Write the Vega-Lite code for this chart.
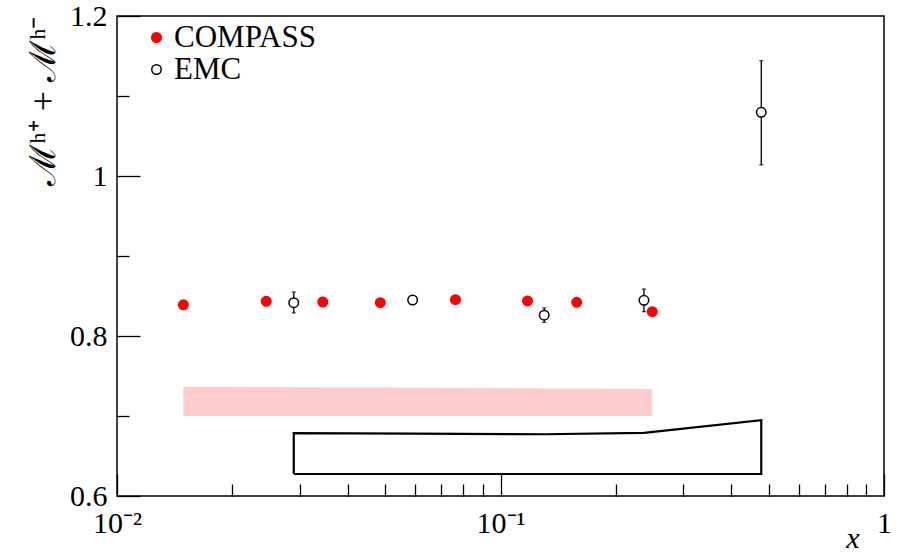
{
  "$schema": "https://vega.github.io/schema/vega-lite/v6.json",
  "width": 767,
  "height": 480,
  "autosize": "none",
  "padding": {"left": 117, "top": 16, "right": 15, "bottom": 59},
  "background": "white",
  "config": {
    "view": {"stroke": "black", "strokeWidth": 1.5},
    "font": "Liberation Serif",
    "axis": {"grid": false, "domain": false, "tickColor": "black", "tickWidth": 1.3, "labelColor": "black", "titleColor": "black", "labelFont": "Liberation Serif", "titleFont": "Liberation Serif", "labelOverlap": false, "labelFlush": false, "labelBound": false},
    "legend": {"labelFont": "Liberation Serif"}
  },
  "datasets": {
    "emc": [
      {"x": 0.0289, "y": 0.8416, "lo": 0.8288, "hi": 0.855, "series": "EMC"},
      {"x": 0.059, "y": 0.845, "lo": 0.84, "hi": 0.85, "series": "EMC"},
      {"x": 0.13, "y": 0.826, "lo": 0.817, "hi": 0.835, "series": "EMC"},
      {"x": 0.2366, "y": 0.8446, "lo": 0.8304, "hi": 0.8588, "series": "EMC"},
      {"x": 0.4786, "y": 1.0796, "lo": 1.0138, "hi": 1.1441, "series": "EMC"}
    ],
    "band": [
      {"x": 0.0149, "lo": 0.7, "hi": 0.7366},
      {"x": 0.0486, "lo": 0.7, "hi": 0.7356},
      {"x": 0.2488, "lo": 0.7, "hi": 0.7338}
    ],
    "poly": [
      {"o": 1, "x": 0.0289, "y": 0.6275},
      {"o": 2, "x": 0.0289, "y": 0.6785},
      {"o": 3, "x": 0.059, "y": 0.678},
      {"o": 4, "x": 0.13, "y": 0.6772},
      {"o": 5, "x": 0.2366, "y": 0.679},
      {"o": 6, "x": 0.4786, "y": 0.6948},
      {"o": 7, "x": 0.4786, "y": 0.6275},
      {"o": 8, "x": 0.0289, "y": 0.6275}
    ],
    "points": [
      {"x": 0.0149, "y": 0.839, "series": "COMPASS"},
      {"x": 0.0245, "y": 0.8434, "series": "COMPASS"},
      {"x": 0.0344, "y": 0.8425, "series": "COMPASS"},
      {"x": 0.0486, "y": 0.8416, "series": "COMPASS"},
      {"x": 0.0763, "y": 0.8454, "series": "COMPASS"},
      {"x": 0.1176, "y": 0.8438, "series": "COMPASS"},
      {"x": 0.158, "y": 0.8421, "series": "COMPASS"},
      {"x": 0.2488, "y": 0.8304, "series": "COMPASS"},
      {"x": 0.0289, "y": 0.8416, "series": "EMC"},
      {"x": 0.059, "y": 0.845, "series": "EMC"},
      {"x": 0.13, "y": 0.826, "series": "EMC"},
      {"x": 0.2366, "y": 0.8446, "series": "EMC"},
      {"x": 0.4786, "y": 1.0796, "series": "EMC"}
    ]
  },
  "layer": [
    {
      "data": {"name": "band"},
      "mark": {"type": "area", "color": "#ffcccc", "opacity": 1},
      "encoding": {
        "x": {"field": "x", "type": "quantitative", "scale": {"type": "log", "domain": [0.01, 1], "nice": false},
          "axis": {
            "values": [0.01,0.02,0.03,0.04,0.05,0.06,0.07,0.08,0.09,0.1,0.2,0.3,0.4,0.5,0.6,0.7,0.8,0.9,1],
            "labelExpr": "datum.value == 0.01 ? '10⁻²' : datum.value == 0.1 ? '10⁻¹' : datum.value == 1 ? '1' : ''",
            "tickSize": {"condition": {"test": "datum.value == 0.01 || datum.value == 0.1 || datum.value == 1", "value": -22}, "value": -12},
            "labelFontSize": 30, "labelPadding": 34, "labelBaseline": "top",
            "title": "x", "titleFontSize": 30, "titleFontStyle": "italic", "titleFontWeight": "normal",
            "titleX": 742, "titleY": 51, "titleAlign": "right", "titleBaseline": "alphabetic"
          }},
        "y": {"field": "lo", "type": "quantitative", "scale": {"domain": [0.6, 1.2], "nice": false, "zero": false},
          "axis": {
            "values": [0.6,0.65,0.7,0.75,0.8,0.85,0.9,0.95,1.0,1.05,1.1,1.15,1.2],
            "labelExpr": "datum.value == 0.6 ? '0.6' : datum.value == 0.8 ? '0.8' : datum.value == 1 ? '1' : datum.value == 1.2 ? '1.2' : ''",
            "tickSize": {"condition": {"test": "datum.value == 0.6 || datum.value == 0.8 || datum.value == 1 || datum.value == 1.2", "value": -23}, "value": -12},
            "labelFontSize": 30, "labelPadding": 33,
            "title": "ℳʰ⁺ + ℳʰ⁻", "titleFontSize": 36, "titleFontWeight": "normal",
            "titleAngle": -90, "titleX": -74, "titleY": 0, "titleAlign": "right", "titleBaseline": "middle"
          }},
        "y2": {"field": "hi"}
      }
    },
    {
      "data": {"name": "poly"},
      "mark": {"type": "line", "color": "black", "strokeWidth": 2.2, "interpolate": "linear"},
      "encoding": {
        "x": {"field": "x", "type": "quantitative"},
        "y": {"field": "y", "type": "quantitative"},
        "order": {"field": "o", "type": "quantitative"}
      }
    },
    {
      "data": {"name": "emc"},
      "mark": {"type": "rule", "color": "black", "strokeWidth": 1.3},
      "encoding": {
        "x": {"field": "x", "type": "quantitative"},
        "y": {"field": "lo", "type": "quantitative"},
        "y2": {"field": "hi"}
      }
    },
    {
      "data": {"name": "emc"},
      "mark": {"type": "tick", "orient": "horizontal", "color": "black", "size": 4, "thickness": 1.3},
      "encoding": {
        "x": {"field": "x", "type": "quantitative"},
        "y": {"field": "lo", "type": "quantitative"}
      }
    },
    {
      "data": {"name": "emc"},
      "mark": {"type": "tick", "orient": "horizontal", "color": "black", "size": 4, "thickness": 1.3},
      "encoding": {
        "x": {"field": "x", "type": "quantitative"},
        "y": {"field": "hi", "type": "quantitative"}
      }
    },
    {
      "data": {"name": "points"},
      "mark": {"type": "point", "shape": "circle", "size": 90, "strokeWidth": 1.5, "opacity": 1},
      "encoding": {
        "x": {"field": "x", "type": "quantitative"},
        "y": {"field": "y", "type": "quantitative"},
        "fill": {"field": "series", "type": "nominal", "scale": {"domain": ["COMPASS", "EMC"], "range": ["#ff0000", "#ffffff"]},
          "legend": {"title": null, "orient": "none", "legendX": 24, "legendY": 6, "padding": 0, "labelFontSize": 31, "labelLimit": 400, "labelColor": "black", "symbolSize": 90, "symbolStrokeWidth": 1.5, "labelOffset": 2, "rowPadding": 0, "symbolOpacity": 1}},
        "stroke": {"field": "series", "type": "nominal", "scale": {"domain": ["COMPASS", "EMC"], "range": ["#ff0000", "#000000"]},
          "legend": {"title": null, "orient": "none", "legendX": 24, "legendY": 6, "padding": 0, "labelFontSize": 31, "labelLimit": 400, "labelColor": "black", "symbolSize": 90, "symbolStrokeWidth": 1.5, "labelOffset": 2, "rowPadding": 0, "symbolOpacity": 1}}
      }
    }
  ]
}
